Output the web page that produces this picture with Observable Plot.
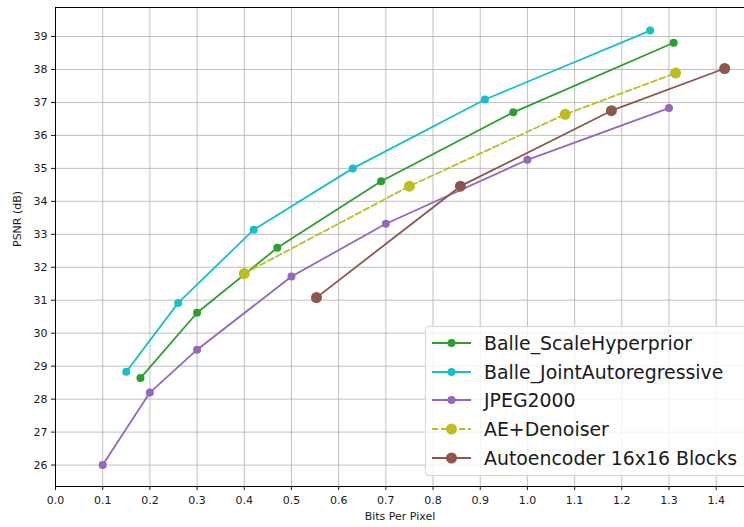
<!DOCTYPE html>
<html>
<head>
<meta charset="utf-8">
<script src="https://cdn.jsdelivr.net/npm/d3@7"></script>
<script src="https://cdn.jsdelivr.net/npm/@observablehq/plot@0.6"></script>
<style>
  html, body { margin: 0; padding: 0; background: #fff; overflow: hidden; }
  #wrap { position: relative; width: 744px; height: 527px; font-family: "DejaVu Sans", sans-serif; }
  #legend { position: absolute; left: 425px; top: 326px; width: 340px; height: 150px;
    border: 1px solid #d6d6d6; border-radius: 4px; background: rgba(255,255,255,0.8); box-sizing: border-box; }
  .row { position: absolute; left: 0; height: 28px; display: flex; align-items: center; }
  .row span { font-size: 18.9px; color: #1a1a1a; white-space: nowrap; }
</style>
</head>
<body>
<div id="wrap"></div>
<script>
// ---- data ----
const seriesNames = ["Balle_ScaleHyperprior", "Balle_JointAutoregressive", "JPEG2000", "AE+Denoiser", "Autoencoder 16x16 Blocks"];
const seriesColors = ["#2ca02c", "#17becf", "#9467bd", "#bcbd22", "#8c564b"];

const hyperBpp  = [0.18, 0.30, 0.47, 0.69, 0.97, 1.31];
const hyperPsnr = [28.64, 30.62, 32.59, 34.61, 36.70, 38.81];
const jointBpp  = [0.15, 0.26, 0.42, 0.63, 0.91, 1.26];
const jointPsnr = [28.83, 30.92, 33.14, 35.00, 37.09, 39.18];
const jpegBpp   = [0.10, 0.20, 0.30, 0.50, 0.70, 1.00, 1.30];
const jpegPsnr  = [26.00, 28.20, 29.50, 31.72, 33.32, 35.26, 36.83];
const aeBpp     = [0.40, 0.75, 1.08, 1.314];
const aePsnr    = [31.81, 34.46, 36.64, 37.89];
const blockBpp  = [0.553, 0.858, 1.178, 1.418];
const blockPsnr = [31.08, 34.46, 36.75, 38.03];

const xTicks = [0.0, 0.1, 0.2, 0.3, 0.4, 0.5, 0.6, 0.7, 0.8, 0.9, 1.0, 1.1, 1.2, 1.3, 1.4];
const yTicks = [26, 27, 28, 29, 30, 31, 32, 33, 34, 35, 36, 37, 38, 39];

const xLabel = "Bits Per Pixel";
const yLabel = "PSNR (dB)";

// ---- build table ----
const seriesBpp = [hyperBpp, jointBpp, jpegBpp, aeBpp, blockBpp];
const seriesPsnr = [hyperPsnr, jointPsnr, jpegPsnr, aePsnr, blockPsnr];
const styles = [
  {r: 4, dash: null}, {r: 4, dash: null}, {r: 4, dash: null},
  {r: 5.5, dash: "6,3"}, {r: 5.5, dash: null}
];
const tables = seriesNames.map((name, i) =>
  seriesBpp[i].map((b, j) => ({series: name, bpp: b, psnr: seriesPsnr[i][j]})));

const marks = [
  Plot.gridX(xTicks, {stroke: "#b0b0b0", strokeOpacity: 1, strokeWidth: 0.8}),
  Plot.gridY(yTicks, {stroke: "#b0b0b0", strokeOpacity: 1, strokeWidth: 0.8}),
];
tables.forEach((t, i) => {
  marks.push(Plot.line(t, {x: "bpp", y: "psnr", stroke: seriesColors[i], strokeWidth: 1.8,
    strokeDasharray: styles[i].dash, strokeLinejoin: "round"}));
  marks.push(Plot.dot(t, {x: "bpp", y: "psnr", r: styles[i].r, fill: seriesColors[i], stroke: "none"}));
});
marks.push(
  Plot.frame({anchor: "left", stroke: "#000", strokeWidth: 1}),
  Plot.frame({anchor: "bottom", stroke: "#000", strokeWidth: 1}),
  Plot.frame({anchor: "top", stroke: "#000", strokeWidth: 1}),
  Plot.axisX({ticks: xTicks, tickFormat: d3.format(".1f"), tickSize: 4, tickPadding: 6, fontSize: 11, label: null}),
  Plot.axisY({ticks: yTicks, tickFormat: d3.format("d"), tickSize: 4, tickPadding: 4, fontSize: 11, label: null}),
  Plot.text([xLabel], {frameAnchor: "bottom", dy: 33, fontSize: 11, fill: "#1a1a1a"}),
  Plot.text([yLabel], {frameAnchor: "left", dx: -38, rotate: -90, fontSize: 11, fill: "#1a1a1a"})
);

const chart = Plot.plot({
  width: 744,
  height: 527,
  marginLeft: 55,
  marginRight: 0,
  marginTop: 7,
  marginBottom: 41,
  style: {fontFamily: "DejaVu Sans, sans-serif", color: "#1a1a1a", background: "#fff"},
  x: {domain: [0, 1.460]},
  y: {domain: [25.35, 39.88]},
  marks
});
const wrap = document.getElementById("wrap");
wrap.appendChild(chart);

// ---- legend ----
const legend = document.createElement("div");
legend.id = "legend";
seriesNames.forEach((name, i) => {
  const row = document.createElement("div");
  row.className = "row";
  row.style.top = (2 + i * 28.7) + "px";
  const sw = document.createElementNS("http://www.w3.org/2000/svg", "svg");
  sw.setAttribute("width", "58"); sw.setAttribute("height", "28");
  const ln = document.createElementNS("http://www.w3.org/2000/svg", "line");
  ln.setAttribute("x1", "6"); ln.setAttribute("x2", "45"); ln.setAttribute("y1", "14"); ln.setAttribute("y2", "14");
  ln.setAttribute("stroke", seriesColors[i]); ln.setAttribute("stroke-width", "1.8");
  if (styles[i].dash) ln.setAttribute("stroke-dasharray", styles[i].dash);
  const c = document.createElementNS("http://www.w3.org/2000/svg", "circle");
  c.setAttribute("cx", "25.5"); c.setAttribute("cy", "14"); c.setAttribute("r", styles[i].r);
  c.setAttribute("fill", seriesColors[i]);
  sw.appendChild(ln); sw.appendChild(c);
  const tx = document.createElement("span");
  tx.textContent = name;
  row.appendChild(sw); row.appendChild(tx);
  legend.appendChild(row);
});
wrap.appendChild(legend);
</script>
</body>
</html>
